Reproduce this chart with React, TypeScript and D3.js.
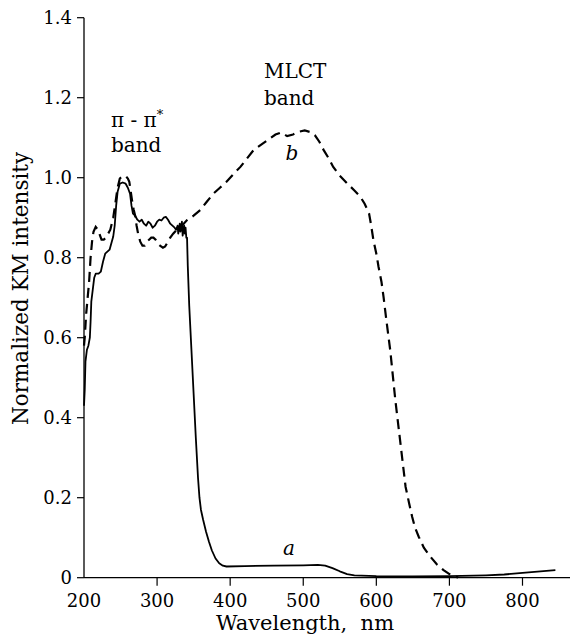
import React, { useEffect, useRef } from "react";
import * as d3 from "d3";

// Curve a (solid)
const wavelengthA = [200, 201, 202, 204, 206, 208, 209, 210, 212, 214, 216, 220, 223, 226, 229, 232, 235, 238, 240, 242, 244, 246, 249, 253, 257, 260, 263, 265, 267, 270, 273, 276, 279, 282, 285, 288, 291, 294, 297, 300, 303, 306, 309, 312, 315, 318, 321, 324, 326, 328, 329, 331, 332, 334, 335, 337, 338, 339, 340, 341, 342, 344, 347, 350, 353, 356, 358, 360, 363, 367, 371, 375, 380, 385, 390, 395, 420, 460, 500, 520, 530, 540, 550, 560, 570, 600, 650, 700, 750, 775, 800, 845];
const intensityA = [0.43, 0.47, 0.54, 0.57, 0.58, 0.6, 0.64, 0.69, 0.72, 0.75, 0.76, 0.76, 0.765, 0.79, 0.81, 0.815, 0.82, 0.84, 0.853, 0.88, 0.93, 0.965, 0.985, 0.988, 0.985, 0.975, 0.96, 0.93, 0.91, 0.905, 0.895, 0.89, 0.895, 0.885, 0.88, 0.89, 0.885, 0.875, 0.88, 0.89, 0.895, 0.893, 0.9, 0.902, 0.895, 0.885, 0.88, 0.875, 0.87, 0.88, 0.86, 0.885, 0.865, 0.89, 0.855, 0.88, 0.86, 0.875, 0.85, 0.85, 0.78, 0.68, 0.57, 0.46, 0.35, 0.25, 0.2, 0.17, 0.145, 0.115, 0.09, 0.068, 0.048, 0.036, 0.03, 0.028, 0.029, 0.03, 0.031, 0.032, 0.03, 0.024, 0.016, 0.009, 0.006, 0.004, 0.003, 0.004, 0.006, 0.008, 0.012, 0.019];

// Curve b (dashed)
const wavelengthB = [200, 201, 203, 205, 207, 209, 211, 213, 216, 219, 221, 224, 227, 230, 233, 236, 238, 240, 242, 244, 246, 249, 253, 257, 260, 262, 264, 266, 268, 270, 272, 274, 277, 280, 283, 286, 289, 292, 295, 298, 301, 304, 308, 311, 315, 318, 322, 327, 334, 341, 350, 359, 368, 377, 386, 395, 405, 414, 423, 432, 442, 452, 462, 470, 478, 486, 494, 502, 510, 516, 522, 528, 535, 541, 550, 560, 570, 578, 584, 590, 593, 596, 600, 603, 607, 610, 614, 619, 626, 633, 640, 645, 649, 653, 658, 665, 674, 683, 692, 700, 708, 712];
const intensityB = [0.58, 0.6, 0.66, 0.7, 0.74, 0.8, 0.84, 0.865, 0.877, 0.87, 0.86, 0.845, 0.845, 0.85, 0.86, 0.87, 0.885, 0.9, 0.925, 0.95, 0.975, 0.998, 1.004, 1.004, 0.998, 0.99, 0.965, 0.94, 0.92, 0.905, 0.88, 0.86, 0.84, 0.83, 0.83, 0.84, 0.845, 0.85, 0.85, 0.845, 0.835, 0.83, 0.825, 0.828, 0.84, 0.85, 0.86, 0.87, 0.88, 0.894, 0.905, 0.919, 0.94, 0.96, 0.975, 0.99, 1.01, 1.027, 1.048, 1.069, 1.082, 1.095, 1.108, 1.113, 1.104, 1.108, 1.115, 1.118, 1.114, 1.106, 1.09, 1.069, 1.048, 1.027, 1.005, 0.986, 0.968, 0.9525, 0.935, 0.911, 0.88, 0.844, 0.81, 0.7775, 0.74, 0.7, 0.64, 0.569, 0.444, 0.336, 0.2275, 0.185, 0.1525, 0.125, 0.1025, 0.075, 0.0525, 0.033, 0.019, 0.009, 0.0025, 0.001];

const xTicks = [200, 300, 400, 500, 600, 700, 800];
const yTicks = [0, 0.2, 0.4, 0.6, 0.8, 1.0, 1.2, 1.4];
const yTickLabels = ["0", "0.2", "0.4", "0.6", "0.8", "1.0", "1.2", "1.4"];

const W = 570;
const H = 636;
const FONT = "DejaVu Serif";

export default function App() {
  const ref = useRef<SVGSVGElement>(null);

  useEffect(() => {
    if (!ref.current) return;
    ref.current.querySelectorAll("text, tspan").forEach((el) => {
      (el as SVGElement).style.setProperty("font-family", '"DejaVu Serif"', "important");
    });
  }, []);

  const x = d3.scaleLinear().domain([200, 865]).range([84, 570]);
  const y = d3.scaleLinear().domain([0, 1.4]).range([577.7, 17.7]);

  const line = d3
    .line<[number, number]>()
    .x((d) => x(d[0]))
    .y((d) => y(d[1]))
    .curve(d3.curveLinear);

  const ptsA: [number, number][] = wavelengthA.map((w, i) => [w, intensityA[i]]);
  const ptsB: [number, number][] = wavelengthB.map((w, i) => [w, intensityB[i]]);

  const x0 = x(200);
  const y0 = y(0);

  return (
    <svg ref={ref} width={W} height={H} style={{ position: "absolute", left: 0, top: 0 }} fontFamily={FONT}>
      <style>{`svg text, svg tspan { font-family: "DejaVu Serif" !important; }`}</style>
      {/* curves */}
      <path d={line(ptsA) || ""} fill="none" stroke="#000" strokeWidth={1.8} strokeLinejoin="round" />
      <path d={line(ptsB) || ""} fill="none" stroke="#000" strokeWidth={2.2} strokeDasharray="10,6" />

      {/* y axis */}
      <line x1={x0} x2={x0} y1={y(1.4)} y2={y0} stroke="#000" strokeWidth={1.3} />
      {yTicks.map((t, i) => (
        <g key={t}>
          <line x1={x0 - 7} x2={x0} y1={y(t)} y2={y(t)} stroke="#000" strokeWidth={1.2} />
          <text x={x0 - 12} y={y(t) + 6.5} textAnchor="end" fontSize={18} fontFamily={FONT}>
            {yTickLabels[i]}
          </text>
        </g>
      ))}

      {/* x axis */}
      <line x1={x0} x2={x(865)} y1={y0} y2={y0} stroke="#000" strokeWidth={1.2} />
      {xTicks.map((t) => (
        <g key={t}>
          {t !== 200 && <line x1={x(t)} x2={x(t)} y1={y0} y2={y0 + 8} stroke="#000" strokeWidth={1.2} />}
          <text x={x(t)} y={607} textAnchor="middle" fontSize={18} fontFamily={FONT}>
            {t}
          </text>
        </g>
      ))}

      {/* axis titles */}
      <text x={305} y={630} textAnchor="middle" fontSize={21} fontFamily={FONT}>
        Wavelength,{"\u00a0"} nm
      </text>
      <text transform="translate(28, 288.5) rotate(-90)" textAnchor="middle" fontSize={21.5} fontFamily={FONT}>
        Normalized KM intensity
      </text>

      {/* annotations */}
      <text x={111} y={126.7} fontSize={20} fontFamily={FONT}>
        π - π<tspan fontSize={13} dy={-8}>*</tspan>
      </text>
      <text x={111} y={151.7} fontSize={20} fontFamily={FONT}>
        band
      </text>
      <text x={264} y={78.3} fontSize={20} fontFamily={FONT}>
        MLCT
      </text>
      <text x={264} y={105} fontSize={20} fontFamily={FONT}>
        band
      </text>
      <text x={292} y={160} fontSize={20} fontStyle="italic" textAnchor="middle" fontFamily={FONT}>
        b
      </text>
      <text x={289} y={555} fontSize={20} fontStyle="italic" textAnchor="middle" fontFamily={FONT}>
        a
      </text>
    </svg>
  );
}
